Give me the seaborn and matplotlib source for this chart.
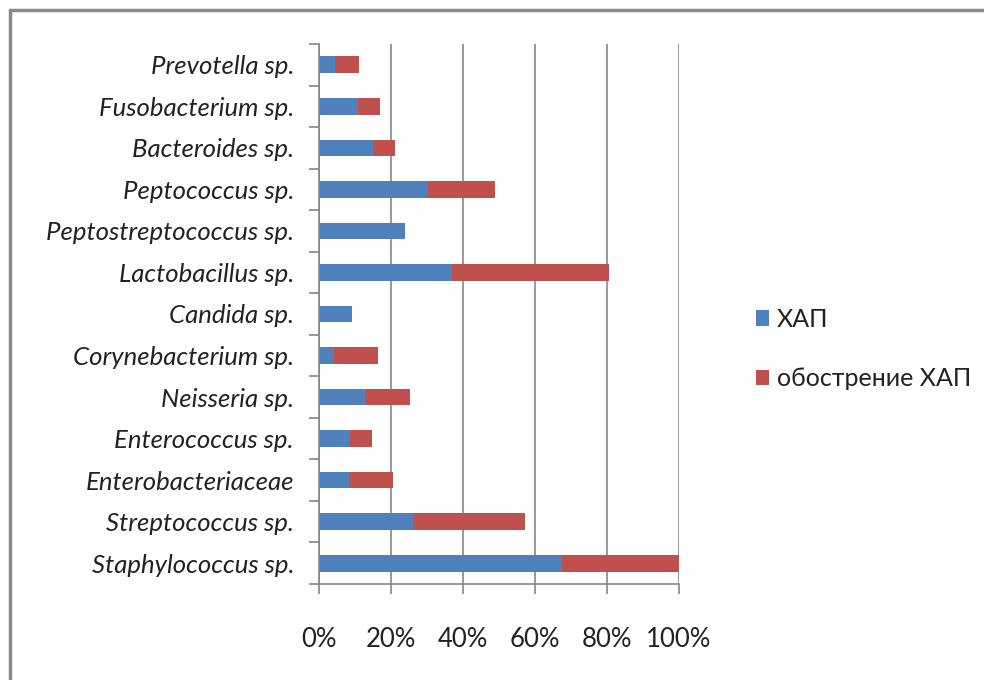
import matplotlib
matplotlib.use("Agg")
import matplotlib.pyplot as plt
from matplotlib.patches import Patch
from matplotlib.lines import Line2D
from matplotlib.ticker import FixedLocator, PercentFormatter
import seaborn as sns
import numpy as np

# Microorganism groups (top to bottom)
categories = [
    "Prevotella sp.", "Fusobacterium sp.", "Bacteroides sp.", "Peptococcus sp.",
    "Peptostreptococcus sp.", "Lactobacillus sp.", "Candida sp.",
    "Corynebacterium sp.", "Neisseria sp.", "Enterococcus sp.",
    "Enterobacteriaceae", "Streptococcus sp.", "Staphylococcus sp.",
]
# Share of cases, %
hap = [4.5, 10.8, 15.1, 30.4, 23.8, 36.9, 9.2, 4.2, 12.9, 8.5, 8.3, 26.0, 67.4]
exacerbation = [6.6, 6.1, 6.1, 18.5, 0.0, 43.7, 0.0, 12.3, 12.4, 6.2, 12.3, 31.2, 32.6]
series_names = ["ХАП", "обострение ХАП"]
x_ticks = [0, 20, 40, 60, 80, 100]

blue = "#4F81BD"
red = "#C0504D"
grey = "#868686"

sns.set_theme(style="white")
plt.rcParams["font.family"] = ["Lato", "DejaVu Sans"]

fig = plt.figure(figsize=(9.84, 6.8), dpi=100)
ax = fig.add_axes([319 / 984, 1 - 584 / 680, 360 / 984, 540 / 680])

totals = np.array(hap) + np.array(exacerbation)
sns.barplot(x=totals, y=categories, color=red, orient="h", width=0.4,
            saturation=1, ax=ax, linewidth=0)
sns.barplot(x=hap, y=categories, color=blue, orient="h", width=0.4,
            saturation=1, ax=ax, linewidth=0)

ax.set_xlim(0, 100)
ax.set_ylim(len(categories) - 0.5, -0.5)
ax.set_xlabel("")
ax.set_ylabel("")

# x axis: percent ticks with gridlines
ax.xaxis.set_major_locator(FixedLocator(x_ticks))
ax.xaxis.set_major_formatter(PercentFormatter(decimals=0))
ax.grid(axis="x", color=grey, linewidth=1.2)
ax.set_axisbelow(True)
ax.tick_params(axis="x", bottom=True, length=7, width=1.2, color=grey,
               direction="out", pad=24, labelsize=18.5, labelcolor="#222222")

# y axis: labels at centers, tick marks at category boundaries
ax.tick_params(axis="y", which="major", left=False, length=0, pad=18,
               labelsize=18.5, labelcolor="#222222")
for lab in ax.get_yticklabels():
    lab.set_fontstyle("italic")
ax.yaxis.set_minor_locator(FixedLocator(np.arange(-0.5, len(categories), 1.0)))
ax.tick_params(axis="y", which="minor", left=True, length=7, width=1.2,
               color=grey, direction="out")

for side in ["top", "right"]:
    ax.spines[side].set_visible(False)
for side in ["left", "bottom"]:
    ax.spines[side].set_color(grey)
    ax.spines[side].set_linewidth(1.2)

# Legend on the right
handles = [Patch(facecolor=blue, edgecolor="none"),
           Patch(facecolor=red, edgecolor="none")]
fig.legend(handles, series_names, loc="center left",
           bbox_to_anchor=(733 / 984, 1 - 349 / 680), frameon=False,
           handlelength=0.55, handleheight=0.55, handletextpad=0.3,
           labelspacing=1.45, fontsize=18, labelcolor="#222222")

# Outer frame of the chart area
fig.add_artist(Line2D([10 / 984, 10 / 984], [0, 1 - 10 / 680],
                      transform=fig.transFigure, color="#8a8a8a", linewidth=2.5))
fig.add_artist(Line2D([10 / 984, 1], [1 - 10 / 680, 1 - 10 / 680],
                      transform=fig.transFigure, color="#8a8a8a", linewidth=2.5))

fig.savefig("out.png", dpi=100, facecolor="white")
